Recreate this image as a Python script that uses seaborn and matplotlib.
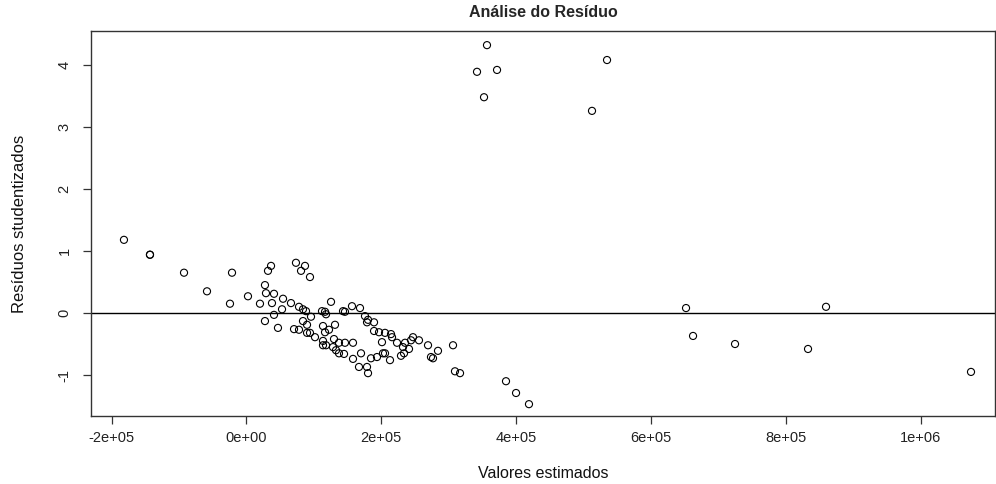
import matplotlib
matplotlib.use("Agg")
import matplotlib.pyplot as plt
import seaborn as sns
import pandas as pd

sns.set_theme(style="white")
plt.rcParams['font.family'] = ['Liberation Sans', 'DejaVu Sans']

# Fitted values (Valores estimados) and studentized residuals
fitted = [
    356800, 342000, 371700, 352400, 534900, 512600,
    -181800, -143200, -143200, -92700, -58600,
    36400, 31900, -21500, 73400, 27400, 28900, 40800, 2200, -24500, 20000,
    37800, 54200, 66000, 52700, 77900, 40800, 27400, 46700, 70500, 77900,
    86800, 80900, 94200,
    125400, 116500, 112000, 118000, 83800, 88300, 95700, 156500, 168400,
    143200, 146100, 175800, 180300, 189200, 178800, 83800, 89800, 89800,
    94200, 113500, 116500, 122400, 131300, 189200, 196600, 205500, 214400,
    215900, 223300, 201000, 247000, 244100, 255900, 269300, 235200, 232200,
    241100, 233700, 229200, 284100, 273700, 276700, 113500, 113500, 118000,
    129800, 137200, 146100, 158000, 128300, 132800, 137200, 144700, 158000,
    169900, 184700, 193600, 202500, 205500, 212900, 166900, 178800, 180300,
    101600,
    306400, 309300, 316800, 385000, 399900, 419100,
    652100, 662500, 724800, 833100, 859800, 1074900,
]
residuals = [
    4.32, 3.89, 3.92, 3.48, 4.08, 3.26,
    1.18, 0.94, 0.94, 0.65, 0.35,
    0.76, 0.68, 0.65, 0.81, 0.45, 0.32, 0.31, 0.27, 0.15, 0.15,
    0.16, 0.23, 0.16, 0.06, 0.10, -0.03, -0.13, -0.24, -0.26, -0.27,
    0.76, 0.68, 0.58,
    0.18, 0.02, 0.03, -0.02, 0.06, 0.03, -0.06, 0.11, 0.08,
    0.03, 0.02, -0.05, -0.11, -0.15, -0.15, -0.13, -0.19, -0.32,
    -0.32, -0.21, -0.31, -0.27, -0.19, -0.29, -0.31, -0.32, -0.34,
    -0.39, -0.48, -0.47, -0.39, -0.44, -0.44, -0.52, -0.48, -0.55,
    -0.58, -0.65, -0.69, -0.61, -0.71, -0.73, -0.45, -0.52, -0.52,
    -0.42, -0.48, -0.48, -0.48, -0.55, -0.60, -0.65, -0.66, -0.74,
    -0.65, -0.73, -0.71, -0.65, -0.65, -0.76, -0.87, -0.87, -0.97,
    -0.39,
    -0.52, -0.94, -0.97, -1.10, -1.29, -1.47,
    0.08, -0.37, -0.50, -0.58, 0.10, -0.95,
]

x_ticks = [-2e5, 0, 2e5, 4e5, 6e5, 8e5, 1e6]
x_tick_labels = ["-2e+05", "0e+00", "2e+05", "4e+05", "6e+05", "8e+05", "1e+06"]
y_ticks = [-1, 0, 1, 2, 3, 4]
y_tick_labels = ["-1", "0", "1", "2", "3", "4"]

df = pd.DataFrame({"fitted": fitted, "resid": residuals})

fig = plt.figure(figsize=(9.96, 4.84), dpi=100)
ax = fig.add_axes([91 / 996, (484 - 416) / 484, (995 - 91) / 996, (416 - 31) / 484])

sns.scatterplot(data=df, x="fitted", y="resid", ax=ax, s=26, color="black",
                edgecolor="black", linewidth=0.8, legend=False)
ax.collections[-1].set_facecolor("none")

ax.axhline(0, color="black", linewidth=1.0)

ax.set_xlim(-230700, 1110500)
ax.set_ylim(-1.661, 4.548)

ax.set_xticks(x_ticks)
ax.set_xticklabels(x_tick_labels)
ax.set_yticks(y_ticks)
ax.set_yticklabels(y_tick_labels, rotation=90, va="center")

for s in ax.spines.values():
    s.set_color("#333333")
    s.set_linewidth(1.0)

ax.tick_params(axis="both", which="both", direction="out", length=6, width=0.9,
               color="#333333", labelsize=10.5, labelcolor="#222222",
               bottom=True, left=True, top=False, right=False)
ax.tick_params(axis="x", pad=5)
ax.tick_params(axis="y", pad=8)

ax.set_xlabel("Valores estimados", fontsize=11.5, color="#111111", labelpad=15)
ax.set_ylabel("Resíduos studentizados", fontsize=12, color="#111111", labelpad=22)
ax.set_title("Análise do Resíduo", fontsize=11.5, fontweight="bold", pad=10)

fig.savefig("out.png", dpi=100, facecolor="white")
